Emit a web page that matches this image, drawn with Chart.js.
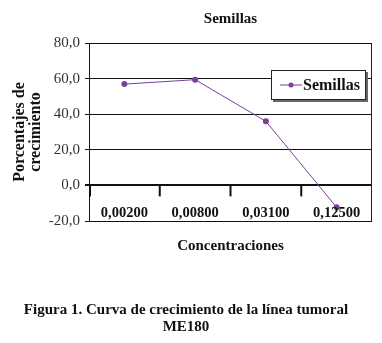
<!DOCTYPE html>
<html>
<head>
<meta charset="utf-8">
<script src="https://cdn.jsdelivr.net/npm/chart.js@4/dist/chart.umd.min.js"></script>
<style>
  html, body { margin: 0; padding: 0; background: #ffffff; }
  #wrap { width: 382px; height: 343px; }
</style>
</head>
<body>
<div id="wrap"><canvas id="chart" width="382" height="343"></canvas></div>
<script>
// data
const categories = ['0,00200', '0,00800', '0,03100', '0,12500'];
const seriesName = 'Semillas';
const semillas = [56.9, 59.4, 36.0, -12.3];
const yTicks = [-20, 0, 20, 40, 60, 80];

const serif = "'Liberation Serif', 'Times New Roman', serif";
const lineColor = '#7b3f9b';

// category labels, boundary ticks under the zero line, frame and legend box
const insidePlot = {
    id: 'insidePlot',
    afterDraw(chart) {
        const ctx = chart.ctx;
        const area = chart.chartArea;
        const x = chart.scales.x;
        const y = chart.scales.y;
        const y0 = y.getPixelForValue(0);
        ctx.save();

        // right border of the plot
        ctx.strokeStyle = '#222';
        ctx.lineWidth = 1;
        ctx.beginPath();
        ctx.moveTo(area.right - 0.5, area.top);
        ctx.lineTo(area.right - 0.5, area.bottom);
        ctx.stroke();

        // tick marks between categories, hanging under the zero line
        ctx.lineWidth = 2;
        ctx.strokeStyle = '#111';
        for (let i = 0; i <= categories.length - 1; i++) {
            let px;
            if (i === 0) px = area.left + 1;
            else px = (x.getPixelForValue(i - 1) + x.getPixelForValue(i)) / 2;
            ctx.beginPath();
            ctx.moveTo(px, y0);
            ctx.lineTo(px, y0 + 11);
            ctx.stroke();
        }

        // category labels inside the plot, between 0 and -20
        ctx.fillStyle = '#111';
        ctx.font = 'bold 14.5px ' + serif;
        ctx.textAlign = 'center';
        ctx.textBaseline = 'middle';
        categories.forEach((c, i) => {
            ctx.fillText(c, x.getPixelForValue(i), area.bottom - 8);
        });

        // legend box
        const bw = 95, bh = 30;
        const bx = area.right - 6 - bw;
        const by = area.top + 27;
        ctx.fillStyle = '#666';
        ctx.fillRect(bx + 2, by + 2, bw, bh);
        ctx.fillStyle = '#fff';
        ctx.fillRect(bx, by, bw, bh);
        ctx.lineWidth = 1;
        ctx.strokeStyle = '#222';
        ctx.strokeRect(bx + 0.5, by + 0.5, bw - 1, bh - 1);
        const ds = chart.data.datasets[0];
        ctx.strokeStyle = ds.borderColor;
        ctx.beginPath();
        ctx.moveTo(bx + 9, by + bh / 2);
        ctx.lineTo(bx + 31, by + bh / 2);
        ctx.stroke();
        ctx.fillStyle = ds.borderColor;
        ctx.beginPath();
        ctx.arc(bx + 20, by + bh / 2, 2.5, 0, Math.PI * 2);
        ctx.fill();
        ctx.fillStyle = '#111';
        ctx.font = 'bold 16px ' + serif;
        ctx.textAlign = 'left';
        ctx.fillText(ds.label, bx + 32, by + bh / 2 + 1);

        ctx.restore();
    }
};

new Chart(document.getElementById('chart').getContext('2d'), {
    type: 'line',
    data: {
        labels: categories,
        datasets: [{
            label: seriesName,
            data: semillas,
            borderColor: lineColor,
            backgroundColor: lineColor,
            borderWidth: 1,
            pointRadius: 3,
            pointBorderWidth: 0,
            tension: 0
        }]
    },
    options: {
        responsive: false,
        animation: false,
        layout: {
            padding: { left: 0, right: 10, top: 0, bottom: 0 }
        },
        plugins: {
            legend: { display: false },
            tooltip: { enabled: false },
            title: {
                display: true,
                text: 'Semillas',
                fullSize: false,
                color: '#111',
                font: { family: serif, size: 15, weight: 'bold' },
                padding: { top: 10, bottom: 15 }
            },
            subtitle: {
                display: true,
                position: 'bottom',
                text: ['Figura 1. Curva de crecimiento de la línea tumoral', 'ME180'],
                color: '#111',
                font: { family: serif, size: 15, weight: 'bold', lineHeight: 1.1 },
                padding: { top: 47, bottom: 8 }
            }
        },
        scales: {
            x: {
                offset: true,
                grid: { display: false, drawTicks: false },
                border: { display: false },
                ticks: { display: false },
                title: {
                    display: true,
                    text: 'Concentraciones',
                    color: '#111',
                    font: { family: serif, size: 15, weight: 'bold' },
                    padding: { top: 16, bottom: 0 }
                }
            },
            y: {
                min: -20,
                max: 80,
                afterBuildTicks(scale) {
                    scale.ticks = yTicks.map(v => ({ value: v }));
                },
                afterFit(scale) {
                    scale.width = 89;
                },
                grid: {
                    color: '#111',
                    lineWidth: c => (c.tick && c.tick.value === 0 ? 2 : 1),
                    tickLength: 4
                },
                border: { display: true, color: '#111', width: 1 },
                ticks: {
                    color: '#333',
                    padding: 5,
                    font: { family: serif, size: 15 },
                    callback: v => v.toFixed(1).replace('.', ',')
                },
                title: {
                    display: true,
                    text: ['Porcentajes de', 'crecimiento'],
                    color: '#111',
                    font: { family: serif, size: 16, weight: 'bold', lineHeight: 1.0 },
                    padding: { top: 12, bottom: 0 }
                }
            }
        }
    },
    plugins: [insidePlot]
});
</script>
</body>
</html>
